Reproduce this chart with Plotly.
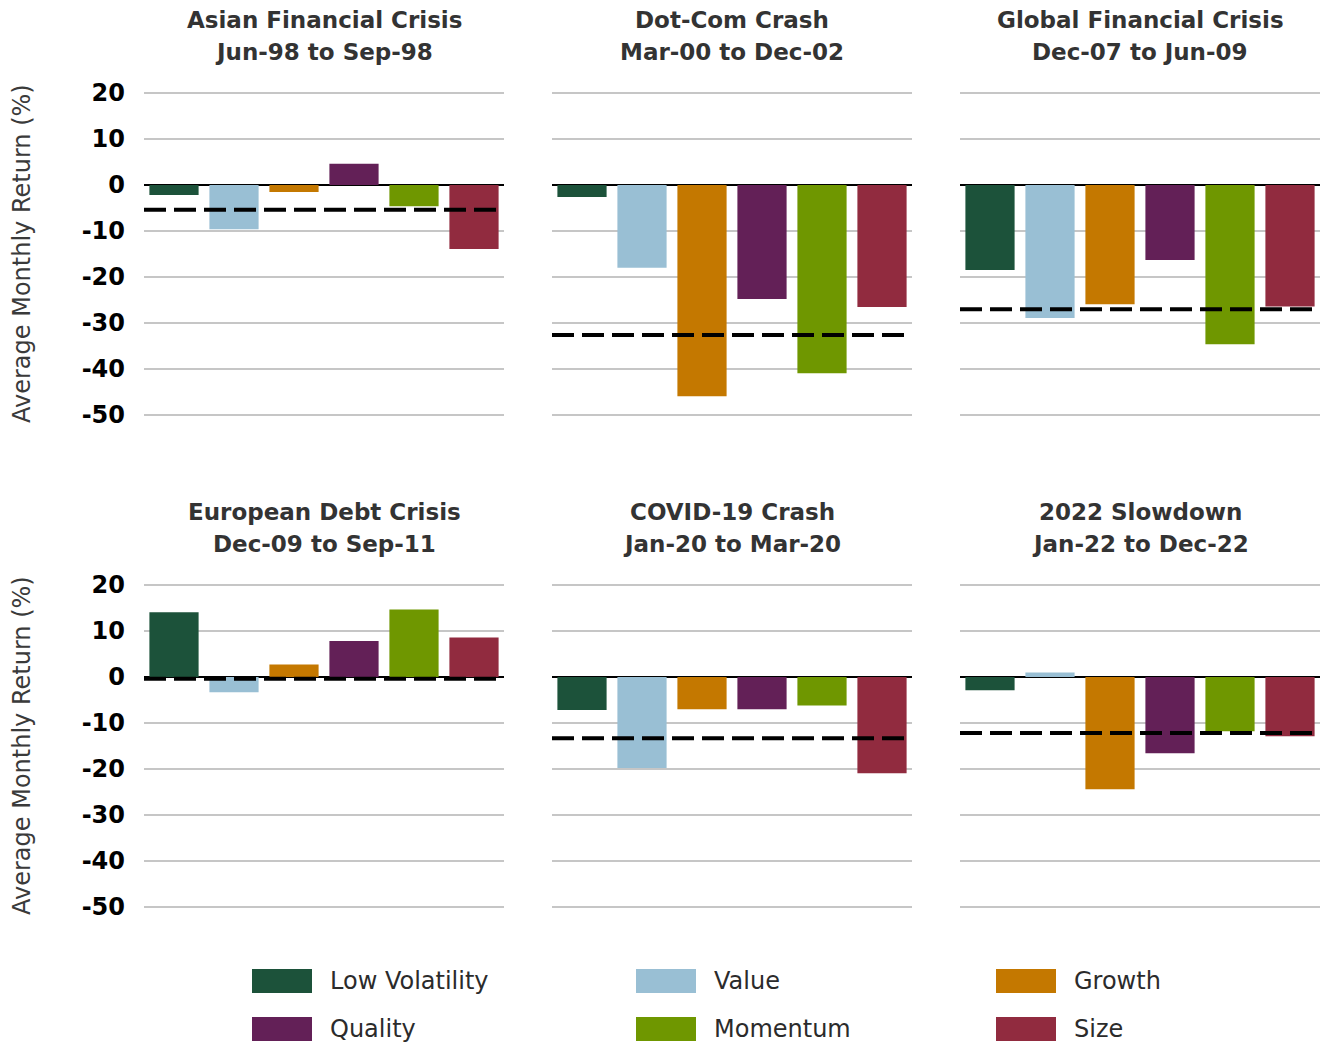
import plotly.graph_objects as go
from plotly.subplots import make_subplots

factors = ["Low Volatility", "Value", "Growth", "Quality", "Momentum", "Size"]
colors = ["#1c523a", "#99bfd4", "#c47800", "#632057", "#6f9700", "#912b3f"]

crises = ["Asian Financial Crisis", "Dot-Com Crash", "Global Financial Crisis",
          "European Debt Crisis", "COVID-19 Crash", "2022 Slowdown"]
periods = ["Jun-98 to Sep-98", "Mar-00 to Dec-02", "Dec-07 to Jun-09",
           "Dec-09 to Sep-11", "Jan-20 to Mar-20", "Jan-22 to Dec-22"]

asian = [-2.2, -9.6, -1.5, 4.6, -4.6, -13.9]
dotcom = [-2.6, -18.0, -45.9, -24.8, -40.9, -26.5]
gfc = [-18.5, -28.9, -25.9, -16.3, -34.6, -26.4]
euro = [14.1, -3.3, 2.7, 7.8, 14.7, 8.6]
covid = [-7.2, -19.8, -7.0, -7.0, -6.2, -20.9]
slow22 = [-2.9, 1.0, -24.4, -16.6, -11.8, -12.9]
returns = [asian, dotcom, gfc, euro, covid, slow22]

# dashed reference line (market)
market = [-5.4, -32.6, -27.0, -0.4, -13.3, -12.2]

tick_vals = [20, 10, 0, -10, -20, -30, -40, -50]
tick_text = ["20", "10", "0", "-10", "-20", "-30", "-40", "-50"]

W, H = 1320, 1042
FONT = "DejaVu Sans"
pad = 0.4 * 4.6  # range padded by 0.4 so edge gridlines show


def px_x(a, b):
    return (a / W, min(b / W, 1.0))


def px_y(top, bot):
    return (1 - (bot + pad) / H, 1 - (top - pad) / H)


xdom = [px_x(144, 504), px_x(552, 912), px_x(960, 1320)]
ydom = [px_y(93, 415), px_y(585, 907)]

fig = make_subplots(rows=2, cols=3)

for k, vals in enumerate(returns):
    r, c = k // 3 + 1, k % 3 + 1
    fig.add_trace(go.Bar(x=factors, y=vals, marker=dict(color=colors, line_width=0),
                         showlegend=False, hoverinfo="x+y"), row=r, col=c)
    fig.add_hline(y=market[k], line=dict(color="black", width=4, dash="22px,8px"), row=r, col=c)
    fig.update_xaxes(domain=xdom[c - 1], showticklabels=False, showgrid=False, automargin=False,
                     range=[-0.5, 5.5], row=r, col=c)
    fig.update_yaxes(domain=ydom[r - 1], range=[-50.4, 20.4], tickvals=tick_vals, ticktext=tick_text,
                     showgrid=True, gridcolor="#c6c6c6", gridwidth=1.5, automargin=False,
                     zeroline=True, zerolinecolor="black", zerolinewidth=2,
                     showticklabels=(c == 1), ticklabelstandoff=18,
                     tickfont=dict(family=FONT, size=24, color="black", weight="bold"),
                     row=r, col=c)
    xm = (xdom[c - 1][0] + xdom[c - 1][1]) / 2
    # two title lines, 32px apart
    for j, txt in enumerate([crises[k], periods[k]]):
        fig.add_annotation(text=txt, x=xm, y=1 - (20 + 32 * j + (r - 1) * 492) / H,
                           xref="paper", yref="paper", showarrow=False, xanchor="center",
                           yanchor="middle",
                           font=dict(family=FONT, size=23, color="#333333", weight="bold"))

for r in range(2):
    fig.add_annotation(text="Average Monthly Return (%)", textangle=-90, x=22 / W,
                       y=sum(ydom[r]) / 2, xref="paper", yref="paper", showarrow=False,
                       xanchor="center", yanchor="middle",
                       font=dict(family=FONT, size=24, color="#3a3a3a"))

# legend: 3 columns x 2 rows
leg_x = [252, 636, 996]
leg_y = [981, 1029]
for i, (name, col) in enumerate(zip(factors, colors)):
    lx, ly = leg_x[i % 3], leg_y[i // 3]
    fig.add_shape(type="rect", xref="paper", yref="paper", x0=lx / W, x1=(lx + 60) / W,
                  y0=1 - (ly + 12) / H, y1=1 - (ly - 12) / H, fillcolor=col, line_width=0)
    fig.add_annotation(text=name, x=(lx + 76) / W, y=1 - ly / H, xref="paper", yref="paper",
                       showarrow=False, xanchor="left", yanchor="middle",
                       font=dict(family=FONT, size=24, color="#2b2b2b"))

fig.update_layout(width=W, height=H, margin=dict(l=0, r=0, t=0, b=0, autoexpand=False),
                  plot_bgcolor="white", paper_bgcolor="white", bargap=0.18,
                  font=dict(family=FONT), showlegend=False)

fig.write_html("out.html", config={"displayModeBar": False},
               post_script="document.body.style.margin='0';")
